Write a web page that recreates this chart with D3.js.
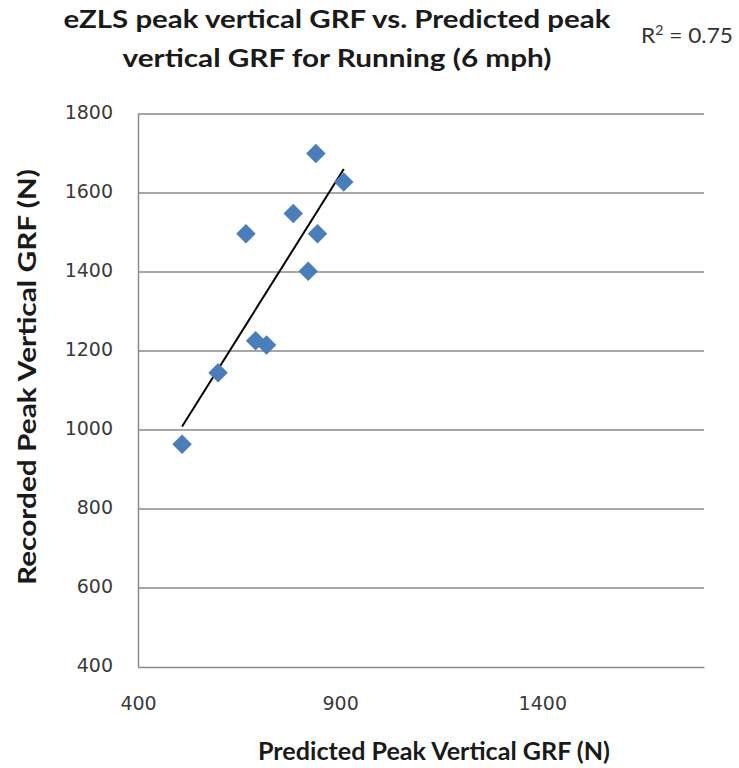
<!DOCTYPE html>
<html>
<head>
<meta charset="utf-8">
<title>eZLS peak vertical GRF</title>
<script src="https://d3js.org/d3.v7.min.js"></script>
<style>
  body { margin: 0; background: #fff; }
</style>
</head>
<body>
<script>
// data
var predicted = [840, 909, 784, 667, 844, 821, 691, 718, 598, 509];
var recorded  = [1700, 1628, 1548, 1497, 1497, 1402, 1226, 1215, 1145, 964];
var xTicks = [400, 900, 1400];
var yTicks = [400, 600, 800, 1000, 1200, 1400, 1600, 1800];
var titleLines = ["eZLS peak vertical GRF vs. Predicted peak", "vertical GRF for Running (6 mph)"];
var titleWidths = [547, 429];

var width = 739, height = 768;
var margin = {left: 138, right: 35, top: 114, bottom: 101};

var svg = d3.select("body").append("svg")
  .attr("width", width)
  .attr("height", height);

var x = d3.scaleLinear().domain([400, 1800]).range([margin.left, width - margin.right]);
var y = d3.scaleLinear().domain([400, 1800]).range([height - margin.bottom, margin.top]);

// gridlines
svg.append("g")
  .selectAll("line")
  .data(yTicks.slice(1))
  .enter().append("line")
  .attr("x1", x(400)).attr("x2", x(1800))
  .attr("y1", function(d) { return y(d); })
  .attr("y2", function(d) { return y(d); })
  .attr("stroke", "#8a8a8a")
  .attr("stroke-width", 1.5);

// axes
var yAxis = svg.append("g")
  .attr("transform", "translate(" + x(400) + ",0)")
  .call(d3.axisLeft(y).tickValues(yTicks).tickFormat(d3.format("d")).tickSize(0).tickPadding(25));
var xAxis = svg.append("g")
  .attr("transform", "translate(0," + y(400) + ")")
  .call(d3.axisBottom(x).tickValues(xTicks).tickFormat(d3.format("d")).tickSize(0).tickPadding(30));

[xAxis, yAxis].forEach(function(a) {
  a.attr("font-family", "'DejaVu Sans', sans-serif").attr("font-size", 19);
  a.select(".domain").attr("stroke", "#8a8a8a").attr("stroke-width", 1.5);
  a.selectAll("text").attr("fill", "#3a3a3a");
});
yAxis.selectAll("text").attr("dy", "0.25em");

// trend line (least squares)
var mx = d3.mean(predicted), my = d3.mean(recorded);
var sxy = d3.sum(predicted, function(v, i) { return (v - mx) * (recorded[i] - my); });
var sxx = d3.sum(predicted, function(v) { return (v - mx) * (v - mx); });
var slope = sxy / sxx, intercept = my - slope * mx;
var xr = d3.extent(predicted);

svg.append("line")
  .attr("x1", x(xr[0])).attr("y1", y(intercept + slope * xr[0]))
  .attr("x2", x(xr[1])).attr("y2", y(intercept + slope * xr[1]))
  .attr("stroke", "#000")
  .attr("stroke-width", 2);

// points
var diamond = d3.symbol().type(d3.symbolSquare).size(190);
svg.append("g")
  .selectAll("path")
  .data(predicted)
  .enter().append("path")
  .attr("d", diamond)
  .attr("transform", function(d, i) { return "translate(" + x(d) + "," + y(recorded[i]) + ") rotate(45)"; })
  .attr("fill", "#4a7ebb");

// titles
svg.append("g")
  .selectAll("text")
  .data(titleLines)
  .enter().append("text")
  .attr("x", 337)
  .attr("y", function(d, i) { return 28 + i * 39; })
  .attr("text-anchor", "middle")
  .attr("textLength", function(d, i) { return titleWidths[i]; })
  .attr("lengthAdjust", "spacingAndGlyphs")
  .style("font-family", "Lato, sans-serif")
  .style("font-weight", "bold")
  .style("font-size", "24px")
  .attr("fill", "#1a1a1a")
  .text(function(d) { return d; });

var r2 = svg.append("text")
  .attr("x", 641)
  .attr("y", 43)
  .attr("textLength", 92)
  .attr("lengthAdjust", "spacingAndGlyphs")
  .style("font-family", "Lato, sans-serif")
  .style("font-size", "21px")
  .attr("fill", "#333");
r2.append("tspan").text("R");
r2.append("tspan").attr("dy", -8).style("font-size", "13px").text("2");
r2.append("tspan").attr("dy", 8).text(" = 0.75");

svg.append("text")
  .attr("x", 434)
  .attr("y", 760)
  .attr("text-anchor", "middle")
  .attr("textLength", 352)
  .attr("lengthAdjust", "spacingAndGlyphs")
  .style("font-family", "Lato, sans-serif")
  .style("font-weight", "bold")
  .style("font-size", "25px")
  .attr("fill", "#1a1a1a")
  .text("Predicted Peak Vertical GRF (N)");

svg.append("text")
  .attr("transform", "translate(36," + 377 + ") rotate(-90)")
  .attr("text-anchor", "middle")
  .attr("textLength", 416)
  .attr("lengthAdjust", "spacingAndGlyphs")
  .style("font-family", "Lato, sans-serif")
  .style("font-weight", "bold")
  .style("font-size", "25px")
  .attr("fill", "#1a1a1a")
  .text("Recorded Peak Vertical GRF (N)");
</script>
</body>
</html>
